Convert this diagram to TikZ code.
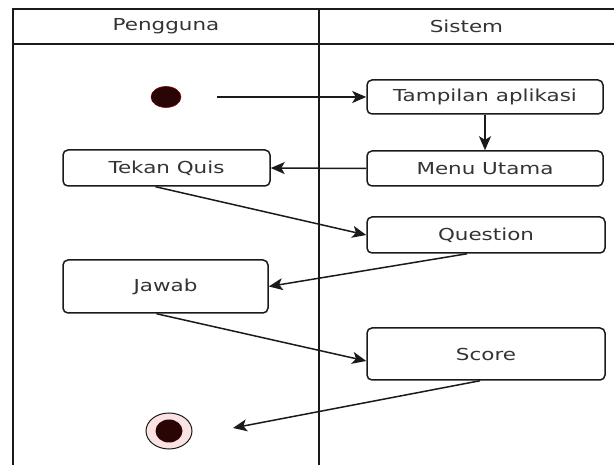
\documentclass[tikz,border=0pt]{standalone}
\usepackage{fontspec}
\usetikzlibrary{arrows.meta,shapes.geometric}
\newfontfamily\lab[FakeStretch=1.3]{DejaVu Sans}
\definecolor{inkline}{HTML}{1A1A1A}
\definecolor{labgray}{HTML}{333333}
\definecolor{dotred}{HTML}{2A0505}
\definecolor{ringpink}{HTML}{FBE3E3}
\begin{document}
\begin{tikzpicture}[x=1pt,y=-1pt,
  lane/.style={draw=inkline, line width=1.8pt},
  act/.style={draw=inkline, rounded corners=5pt, line width=1.5pt, inner sep=0pt,
    font=\lab\fontsize{16.5}{18}\selectfont, text=labgray},
  hdr/.style={font=\lab\fontsize{16.5}{18}\selectfont, text=labgray},
  flow/.style={draw=inkline, line width=1.5pt,
    -{Stealth[length=14pt,width=12pt,inset=3.5pt]}}]
\useasboundingbox (0,0) rectangle (614,465);

% swimlane frame
\draw[lane] (13,465) -- (13,9) -- (614,9);
\draw[lane] (13,44) -- (614,44);
\draw[lane] (319,9) -- (319,465);
\node[hdr] (hP) at (166,26.5) {Pengguna};
\node[hdr] (hS) at (466.5,26.5) {Sistem};

% start and end states
\node[ellipse, fill=dotred, draw=dotred!60!red, line width=0.6pt,
  minimum width=30pt, minimum height=21pt, inner sep=0pt] (start) at (166,97) {};
\node[ellipse, fill=ringpink, draw=inkline, line width=1pt,
  minimum width=46pt, minimum height=36pt, inner sep=0pt] (end) at (169,431) {};
\node[ellipse, fill=dotred, minimum width=27pt, minimum height=23pt,
  inner sep=0pt] (endcore) at (169,431) {};

% activities
\node[act, minimum width=236pt, minimum height=34pt] (tamp)  at (485,97)    {Tampilan aplikasi};
\node[act, minimum width=236pt, minimum height=35pt] (menu)  at (485,168.5) {Menu Utama};
\node[act, minimum width=207pt, minimum height=36pt] (tekan) at (166.5,168) {Tekan Quis};
\node[act, minimum width=238pt, minimum height=36pt] (quest) at (486,235)   {Question};
\node[act, minimum width=205pt, minimum height=53pt] (jawab) at (165.5,286.5) {Jawab};
\node[act, minimum width=238pt, minimum height=52pt] (score) at (486,354)   {Score};

% free ends
\coordinate (s1) at (217,97);
\coordinate (e1) at (233,428);

% control flow
\draw[flow] (s1) -- (tamp.west);
\draw[flow] (tamp.south) -- (menu.north);
\draw[flow] (menu.west) -- (tekan.east);
\draw[flow] ([xshift=-11pt]tekan.south) -- (quest.west);
\draw[flow] ([xshift=-19pt]quest.south) -- (jawab.east);
\draw[flow] ([xshift=-9pt]jawab.south) -- ([yshift=-7pt]score.west);
\draw[flow] ([xshift=-6pt]score.south) -- (e1);
\end{tikzpicture}
\end{document}
